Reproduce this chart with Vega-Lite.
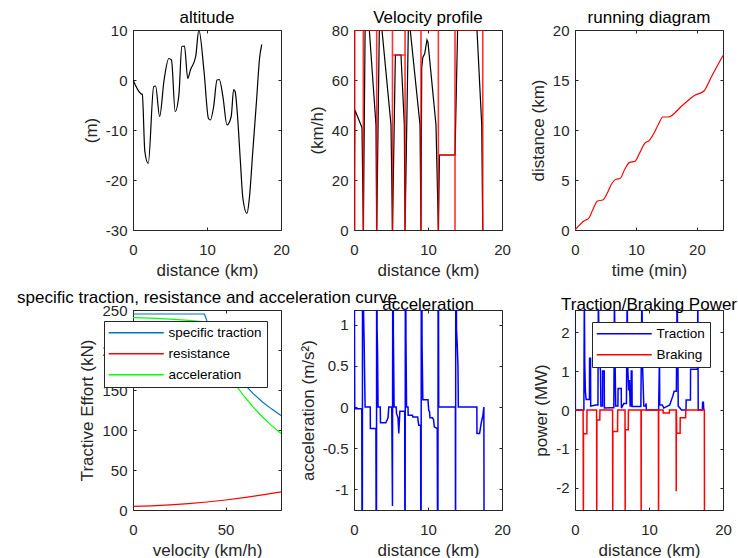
{
"$schema": "https://vega.github.io/schema/vega-lite/v6.json",
"background": "white",
"padding": {"left": 16, "top": 8, "right": 5, "bottom": 5},
"config": {
 "font": "Liberation Sans",
 "view": {"stroke": "#262626", "strokeWidth": 1},
 "axis": {"grid": false, "domain": false, "ticks": true, "tickSize": -3, "tickColor": "#262626", "tickWidth": 1, "labelColor": "#262626", "labelFontSize": 15, "titleColor": "#262626", "titleFontSize": 17, "titleFontWeight": "normal", "labelFlush": false, "labelOverlap": false},
 "axisBottom": {"labelPadding": 15, "titlePadding": 5},
 "axisLeft": {"labelPadding": 9, "titlePadding": 5},
 "title": {"fontSize": 17, "fontWeight": "normal", "color": "#000", "frame": "group", "baseline": "alphabetic", "offset": -4},
 "legend": {"labelFontSize": 13.5, "labelColor": "#000", "symbolType": "M-3.5,0H24", "symbolSize": 16, "symbolStrokeWidth": 1.5, "labelOffset": 46, "rowPadding": 6, "padding": 5, "strokeColor": "#262626", "fillColor": "#ffffff"}
},
"resolve": {"scale": {"color": "independent"}, "legend": {"color": "independent"}},
"columns": 3,
"spacing": {"row": 80, "column": 73},
"bounds": "flush",
"datasets": {
 "alt": [{"x":0,"y":0},{"x":1.03,"y":-2.7},{"x":1.26,"y":-2.9},{"x":1.6,"y":-14.3},{"x":2.06,"y":-16.7},{"x":2.8,"y":-1.3},{"x":3.05,"y":-1.2},{"x":3.6,"y":-7.3},{"x":4.2,"y":0},{"x":4.84,"y":4.3},{"x":5.2,"y":4},{"x":5.7,"y":-6.3},{"x":6.2,"y":-3},{"x":6.6,"y":6.7},{"x":6.95,"y":6.8},{"x":7.4,"y":0.3},{"x":7.76,"y":2},{"x":8.47,"y":4.7},{"x":8.9,"y":10},{"x":9.6,"y":1.7},{"x":10.2,"y":-7.7},{"x":10.45,"y":-8},{"x":10.9,"y":-5.3},{"x":11.35,"y":0},{"x":11.66,"y":0.1},{"x":12.15,"y":-3.3},{"x":12.7,"y":-9},{"x":13.27,"y":-7.3},{"x":13.6,"y":-1.9},{"x":13.8,"y":-2.3},{"x":14.1,"y":-6.7},{"x":14.5,"y":-16},{"x":14.85,"y":-23.7},{"x":15.4,"y":-26.7},{"x":15.7,"y":-24},{"x":16.2,"y":-14},{"x":16.7,"y":-4},{"x":17.1,"y":4.3},{"x":17.4,"y":7.1}],
 "vel": [{"x":0,"y":0},{"x":0.12,"y":48},{"x":1.08,"y":41},{"x":1.26,"y":0},{"x":1.5,"y":80},{"x":2.07,"y":80},{"x":2.97,"y":42},{"x":3.07,"y":0},{"x":3.42,"y":80},{"x":3.78,"y":80},{"x":5.0,"y":42},{"x":5.2,"y":0},{"x":5.59,"y":70},{"x":6.35,"y":70},{"x":6.8,"y":42},{"x":6.9,"y":0},{"x":7.34,"y":80},{"x":7.6,"y":80},{"x":8.92,"y":42},{"x":9.05,"y":0},{"x":9.15,"y":65},{"x":9.3,"y":69},{"x":9.55,"y":70.5},{"x":9.86,"y":76},{"x":10.0,"y":75},{"x":11.08,"y":42},{"x":11.4,"y":0},{"x":11.55,"y":30},{"x":13.65,"y":30},{"x":14.0,"y":80},{"x":16.62,"y":80},{"x":17.26,"y":42},{"x":17.4,"y":0}],
 "lim": [{"x":0.1,"y":0},{"x":0.1,"y":80},{"x":1.26,"y":80},{"x":1.26,"y":0},{"x":1.26,"y":80},{"x":3.07,"y":80},{"x":3.07,"y":0},{"x":3.07,"y":80},{"x":5.2,"y":80},{"x":5.2,"y":0},{"x":5.2,"y":70},{"x":6.9,"y":70},{"x":6.9,"y":0},{"x":6.9,"y":80},{"x":9.05,"y":80},{"x":9.05,"y":0},{"x":9.05,"y":80},{"x":11.4,"y":80},{"x":11.4,"y":0},{"x":11.4,"y":30},{"x":13.65,"y":30},{"x":13.65,"y":0},{"x":13.65,"y":80},{"x":17.4,"y":80},{"x":17.4,"y":0}],
 "run": [{"x":0,"y":0},{"x":1.53,"y":0.93},{"x":2.25,"y":1.16},{"x":2.9,"y":2.0},{"x":3.7,"y":2.9},{"x":4.55,"y":3.0},{"x":5.26,"y":3.65},{"x":5.9,"y":4.5},{"x":6.74,"y":5.08},{"x":7.4,"y":5.15},{"x":8.1,"y":6.0},{"x":8.9,"y":6.74},{"x":9.86,"y":6.88},{"x":10.6,"y":7.7},{"x":11.4,"y":8.64},{"x":12.2,"y":8.97},{"x":12.9,"y":9.63},{"x":13.7,"y":10.6},{"x":14.4,"y":11.3},{"x":15.3,"y":11.3},{"x":17.5,"y":12.4},{"x":19.6,"y":13.45},{"x":21.15,"y":13.9},{"x":22.35,"y":15.3},{"x":24.27,"y":17.45}],
 "trac": [
  {"s":"specific traction","x":0,"y":245},{"s":"specific traction","x":20,"y":245},{"s":"specific traction","x":38.6,"y":245},{"s":"specific traction","x":40,"y":236.4},{"s":"specific traction","x":45,"y":210.2},{"s":"specific traction","x":50,"y":189.1},{"s":"specific traction","x":55,"y":171.9},{"s":"specific traction","x":60,"y":157.6},{"s":"specific traction","x":65,"y":145.5},{"s":"specific traction","x":70,"y":135.1},{"s":"specific traction","x":75,"y":126.1},{"s":"specific traction","x":80,"y":118.2},
  {"s":"resistance","x":0,"y":4.5},{"s":"resistance","x":10,"y":5.2},{"s":"resistance","x":20,"y":6.4},{"s":"resistance","x":30,"y":8.0},{"s":"resistance","x":40,"y":10.0},{"s":"resistance","x":50,"y":12.5},{"s":"resistance","x":60,"y":15.4},{"s":"resistance","x":70,"y":18.8},{"s":"resistance","x":80,"y":22.6},
  {"s":"acceleration","x":0,"y":240.5},{"s":"acceleration","x":10,"y":239.8},{"s":"acceleration","x":20,"y":238.6},{"s":"acceleration","x":30,"y":237.0},{"s":"acceleration","x":38.6,"y":235.3},{"s":"acceleration","x":40,"y":226.4},{"s":"acceleration","x":45,"y":199.0},{"s":"acceleration","x":50,"y":176.6},{"s":"acceleration","x":55,"y":158.0},{"s":"acceleration","x":60,"y":142.2},{"s":"acceleration","x":65,"y":128.5},{"s":"acceleration","x":70,"y":116.3},{"s":"acceleration","x":75,"y":105.5},{"s":"acceleration","x":80,"y":95.6}],
 "acc": [{"x":0,"y":3},{"x":0.1,"y":0},{"x":0.12,"y":-0.02},{"x":1.05,"y":-0.02},{"x":1.12,"y":-3},{"x":1.16,"y":3},{"x":1.3,"y":1.1},{"x":1.36,"y":0.84},{"x":1.5,"y":0},{"x":2.2,"y":0},{"x":2.21,"y":-0.26},{"x":2.96,"y":-0.26},{"x":3.03,"y":-3},{"x":3.07,"y":3},{"x":3.12,"y":0.95},{"x":3.18,"y":0.7},{"x":3.25,"y":0},{"x":3.55,"y":0},{"x":3.58,"y":-0.19},{"x":4.3,"y":-0.19},{"x":4.5,"y":-0.15},{"x":4.6,"y":-0.13},{"x":4.7,"y":0},{"x":5.1,"y":0},{"x":5.2,"y":-1.2},{"x":5.25,"y":3},{"x":5.32,"y":0.9},{"x":5.42,"y":0},{"x":5.7,"y":0},{"x":5.75,"y":-0.08},{"x":5.95,"y":-0.13},{"x":6.05,"y":-0.32},{"x":6.2,"y":-0.05},{"x":6.85,"y":-0.05},{"x":6.9,"y":-3},{"x":6.95,"y":3},{"x":7.02,"y":0.85},{"x":7.1,"y":0},{"x":7.3,"y":0},{"x":7.32,"y":-0.1},{"x":7.9,"y":-0.1},{"x":7.95,"y":-0.12},{"x":8.6,"y":-0.12},{"x":8.75,"y":-0.22},{"x":9.0,"y":-0.22},{"x":9.06,"y":-3},{"x":9.1,"y":3},{"x":9.2,"y":0.75},{"x":9.3,"y":0.09},{"x":10.0,"y":0.09},{"x":10.05,"y":0.02},{"x":10.1,"y":-0.04},{"x":10.2,"y":-0.05},{"x":10.27,"y":-0.13},{"x":10.6,"y":-0.13},{"x":10.75,"y":-0.15},{"x":10.85,"y":-0.24},{"x":11.25,"y":-0.26},{"x":11.33,"y":-3},{"x":11.38,"y":3},{"x":11.45,"y":0},{"x":13.7,"y":0},{"x":13.72,"y":-3},{"x":13.76,"y":3},{"x":13.85,"y":0.95},{"x":13.95,"y":0.76},{"x":14.05,"y":0.5},{"x":14.1,"y":0},{"x":16.6,"y":0},{"x":16.62,"y":-0.32},{"x":16.97,"y":-0.32},{"x":17.2,"y":-0.19},{"x":17.42,"y":-0.1},{"x":17.55,"y":0},{"x":17.6,"y":-3}],
 "pow": [
  {"s":"Traction","x":0,"y":3},{"s":"Traction","x":0.05,"y":0},{"s":"Traction","x":1.2,"y":0},{"s":"Traction","x":1.26,"y":3},{"s":"Traction","x":1.32,"y":1.2},{"s":"Traction","x":1.4,"y":0.5},{"s":"Traction","x":1.5,"y":0.27},{"s":"Traction","x":1.95,"y":0.27},{"s":"Traction","x":1.97,"y":1.33},{"s":"Traction","x":2.1,"y":1.33},{"s":"Traction","x":2.12,"y":0.1},{"s":"Traction","x":2.8,"y":0.13},{"s":"Traction","x":3.1,"y":0.13},{"s":"Traction","x":3.16,"y":3},{"s":"Traction","x":3.25,"y":1.6},{"s":"Traction","x":3.35,"y":1.19},{"s":"Traction","x":3.45,"y":1.0},{"s":"Traction","x":3.5,"y":0.1},{"s":"Traction","x":3.72,"y":0.1},{"s":"Traction","x":3.74,"y":1.0},{"s":"Traction","x":3.95,"y":1.0},{"s":"Traction","x":3.97,"y":0.05},{"s":"Traction","x":4.8,"y":0.06},{"s":"Traction","x":5.25,"y":0.06},{"s":"Traction","x":5.33,"y":3},{"s":"Traction","x":5.42,"y":1.2},{"s":"Traction","x":5.5,"y":0.1},{"s":"Traction","x":5.8,"y":0.1},{"s":"Traction","x":5.82,"y":0.55},{"s":"Traction","x":6.25,"y":0.55},{"s":"Traction","x":6.27,"y":0.05},{"s":"Traction","x":6.6,"y":0.17},{"s":"Traction","x":6.95,"y":0.17},{"s":"Traction","x":7.05,"y":3},{"s":"Traction","x":7.15,"y":1.0},{"s":"Traction","x":7.25,"y":0.5},{"s":"Traction","x":7.36,"y":0.77},{"s":"Traction","x":7.45,"y":0.1},{"s":"Traction","x":7.58,"y":0.1},{"s":"Traction","x":7.6,"y":1.0},{"s":"Traction","x":7.7,"y":1.0},{"s":"Traction","x":7.72,"y":0.09},{"s":"Traction","x":8.9,"y":0.09},{"s":"Traction","x":9.04,"y":3},{"s":"Traction","x":9.15,"y":1.0},{"s":"Traction","x":9.3,"y":0.1},{"s":"Traction","x":9.55,"y":0.1},{"s":"Traction","x":9.6,"y":0.17},{"s":"Traction","x":9.65,"y":0},{"s":"Traction","x":11.3,"y":0},{"s":"Traction","x":11.42,"y":1.42},{"s":"Traction","x":11.45,"y":0.13},{"s":"Traction","x":11.8,"y":0.13},{"s":"Traction","x":12.0,"y":0.05},{"s":"Traction","x":12.8,"y":0.13},{"s":"Traction","x":13.2,"y":0.35},{"s":"Traction","x":13.4,"y":0.48},{"s":"Traction","x":13.7,"y":0.48},{"s":"Traction","x":13.8,"y":3},{"s":"Traction","x":13.9,"y":1.5},{"s":"Traction","x":13.95,"y":0.1},{"s":"Traction","x":14.4,"y":0},{"s":"Traction","x":15.0,"y":0},{"s":"Traction","x":15.02,"y":0.26},{"s":"Traction","x":15.6,"y":0.26},{"s":"Traction","x":15.62,"y":1.05},{"s":"Traction","x":16.55,"y":1.05},{"s":"Traction","x":16.6,"y":3},{"s":"Traction","x":16.65,"y":0},{"s":"Traction","x":17.2,"y":0},{"s":"Traction","x":17.25,"y":0.2},{"s":"Traction","x":17.35,"y":0.2},{"s":"Traction","x":17.4,"y":0},
  {"s":"Braking","x":0,"y":0},{"s":"Braking","x":1.1,"y":0},{"s":"Braking","x":1.13,"y":-3},{"s":"Braking","x":1.15,"y":-0.61},{"s":"Braking","x":1.6,"y":-0.61},{"s":"Braking","x":1.62,"y":0},{"s":"Braking","x":2.92,"y":0},{"s":"Braking","x":2.94,"y":-3},{"s":"Braking","x":2.96,"y":-0.26},{"s":"Braking","x":3.35,"y":-0.26},{"s":"Braking","x":3.37,"y":0},{"s":"Braking","x":5.08,"y":0},{"s":"Braking","x":5.1,"y":-3},{"s":"Braking","x":5.12,"y":-0.55},{"s":"Braking","x":5.75,"y":-0.55},{"s":"Braking","x":5.77,"y":0},{"s":"Braking","x":6.76,"y":0},{"s":"Braking","x":6.78,"y":-3},{"s":"Braking","x":6.8,"y":-0.51},{"s":"Braking","x":7.2,"y":-0.51},{"s":"Braking","x":7.22,"y":0},{"s":"Braking","x":8.92,"y":0},{"s":"Braking","x":8.94,"y":-3},{"s":"Braking","x":8.96,"y":0},{"s":"Braking","x":11.27,"y":0},{"s":"Braking","x":11.29,"y":-3},{"s":"Braking","x":11.31,"y":0},{"s":"Braking","x":11.9,"y":0},{"s":"Braking","x":11.92,"y":-0.08},{"s":"Braking","x":12.75,"y":-0.08},{"s":"Braking","x":12.77,"y":0},{"s":"Braking","x":13.66,"y":0},{"s":"Braking","x":13.68,"y":-2.09},{"s":"Braking","x":13.7,"y":0},{"s":"Braking","x":13.75,"y":-0.6},{"s":"Braking","x":14.2,"y":-0.6},{"s":"Braking","x":14.22,"y":-0.2},{"s":"Braking","x":14.95,"y":-0.2},{"s":"Braking","x":14.97,"y":0},{"s":"Braking","x":17.48,"y":0},{"s":"Braking","x":17.5,"y":-3}]
},
"concat": [
 {"title": "altitude", "width": 148, "height": 200,
  "layer": [
   {"data": {"name": "alt"}, "mark": {"type": "line", "color": "#000000", "strokeWidth": 1.2, "interpolate": "monotone", "clip": true},
    "encoding": {"x": {"field": "x", "type": "quantitative", "scale": {"domain": [0, 20], "nice": false, "zero": false}, "axis": {"orient": "bottom", "values": [0, 10, 20], "title": "distance (km)", "labelExpr": "'' + datum.value"}},
                 "y": {"field": "y", "type": "quantitative", "scale": {"domain": [-30, 10], "nice": false, "zero": false}, "axis": {"orient": "left", "values": [-30, -20, -10, 0, 10], "title": "(m)", "labelExpr": "'' + datum.value"}},
                 "order": {"value": null}}},
   {"data": {"name": "alt"}, "mark": {"type": "line", "opacity": 0, "clip": true},
    "encoding": {"x": {"field": "x", "type": "quantitative", "scale": {"domain": [0, 20], "nice": false, "zero": false}, "axis": {"orient": "top", "values": [0, 10, 20], "labels": false, "title": null}},
                 "y": {"field": "y", "type": "quantitative", "scale": {"domain": [-30, 10], "nice": false, "zero": false}, "axis": {"orient": "right", "values": [-30, -20, -10, 0, 10], "labels": false, "title": null}}}}
  ],
  "resolve": {"axis": {"x": "independent", "y": "independent"}}},
 {"title": "Velocity profile", "width": 148, "height": 200,
  "layer": [
   {"data": {"name": "vel"}, "mark": {"type": "line", "color": "#000000", "strokeWidth": 1.2, "clip": true},
    "encoding": {"x": {"field": "x", "type": "quantitative", "scale": {"domain": [0, 20], "nice": false, "zero": false}, "axis": {"orient": "bottom", "values": [0, 10, 20], "title": "distance (km)", "labelExpr": "'' + datum.value"}},
                 "y": {"field": "y", "type": "quantitative", "scale": {"domain": [0, 80], "nice": false, "zero": false}, "axis": {"orient": "left", "values": [0, 20, 40, 60, 80], "title": "(km/h)", "labelExpr": "'' + datum.value"}},
                 "order": {"value": null}}},
   {"data": {"name": "lim"}, "mark": {"type": "line", "color": "#ff0000", "strokeWidth": 1.6, "opacity": 0.8, "clip": true},
    "encoding": {"x": {"field": "x", "type": "quantitative", "scale": {"domain": [0, 20], "nice": false, "zero": false}, "axis": {"orient": "top", "values": [0, 10, 20], "labels": false, "title": null}},
                 "y": {"field": "y", "type": "quantitative", "scale": {"domain": [0, 80], "nice": false, "zero": false}, "axis": {"orient": "right", "values": [0, 20, 40, 60, 80], "labels": false, "title": null}},
                 "order": {"value": null}}}
  ],
  "resolve": {"axis": {"x": "independent", "y": "independent"}}},
 {"title": "running diagram", "width": 148, "height": 200,
  "layer": [
   {"data": {"name": "run"}, "mark": {"type": "line", "color": "#ff0000", "strokeWidth": 1.2, "interpolate": "monotone", "clip": true},
    "encoding": {"x": {"field": "x", "type": "quantitative", "scale": {"domain": [0, 24.27], "nice": false, "zero": false}, "axis": {"orient": "bottom", "values": [0, 10, 20], "title": "time (min)", "labelExpr": "'' + datum.value"}},
                 "y": {"field": "y", "type": "quantitative", "scale": {"domain": [0, 20], "nice": false, "zero": false}, "axis": {"orient": "left", "values": [0, 5, 10, 15, 20], "title": "distance (km)", "labelExpr": "'' + datum.value"}},
                 "order": {"value": null}}},
   {"data": {"name": "run"}, "mark": {"type": "line", "opacity": 0, "clip": true},
    "encoding": {"x": {"field": "x", "type": "quantitative", "scale": {"domain": [0, 24.27], "nice": false, "zero": false}, "axis": {"orient": "top", "values": [0, 10, 20], "labels": false, "title": null}},
                 "y": {"field": "y", "type": "quantitative", "scale": {"domain": [0, 20], "nice": false, "zero": false}, "axis": {"orient": "right", "values": [0, 5, 10, 15, 20], "labels": false, "title": null}}}}
  ],
  "resolve": {"axis": {"x": "independent", "y": "independent"}}},
 {"title": "specific traction, resistance and acceleration curve", "width": 148, "height": 200,
  "layer": [
   {"data": {"name": "trac"}, "mark": {"type": "line", "strokeWidth": 1.2, "clip": true},
    "encoding": {"x": {"field": "x", "type": "quantitative", "scale": {"domain": [0, 80], "nice": false, "zero": false}, "axis": {"orient": "bottom", "values": [0, 50], "title": "velocity (km/h)", "labelExpr": "'' + datum.value"}},
                 "y": {"field": "y", "type": "quantitative", "scale": {"domain": [0, 250], "nice": false, "zero": false}, "axis": {"orient": "left", "values": [0, 50, 100, 150, 200, 250], "title": "Tractive Effort (kN)", "labelExpr": "'' + datum.value"}},
                 "color": {"field": "s", "type": "nominal", "scale": {"domain": ["specific traction", "resistance", "acceleration"], "range": ["#0072BD", "#FF0000", "#00FF00"]}, "legend": {"orient": "none", "legendX": -29, "legendY": 11, "title": null}},
                 "order": {"value": null}}},
   {"data": {"name": "trac"}, "mark": {"type": "line", "opacity": 0, "clip": true},
    "encoding": {"x": {"field": "x", "type": "quantitative", "scale": {"domain": [0, 80], "nice": false, "zero": false}, "axis": {"orient": "top", "values": [0, 50], "labels": false, "title": null}},
                 "y": {"field": "y", "type": "quantitative", "scale": {"domain": [0, 250], "nice": false, "zero": false}, "axis": {"orient": "right", "values": [0, 50, 100, 150, 200, 250], "labels": false, "title": null}},
                 "detail": {"field": "s"}}}
  ],
  "resolve": {"axis": {"x": "independent", "y": "independent"}}},
 {"title": "acceleration", "width": 148, "height": 200,
  "layer": [
   {"data": {"name": "acc"}, "mark": {"type": "line", "color": "#0000ff", "strokeWidth": 1.5, "clip": true},
    "encoding": {"x": {"field": "x", "type": "quantitative", "scale": {"domain": [0, 20], "nice": false, "zero": false}, "axis": {"orient": "bottom", "values": [0, 10, 20], "title": "distance (km)", "labelExpr": "'' + datum.value"}},
                 "y": {"field": "y", "type": "quantitative", "scale": {"domain": [-1.25, 1.18], "nice": false, "zero": false}, "axis": {"orient": "left", "values": [-1, -0.5, 0, 0.5, 1], "title": "acceleration (m/s²)", "labelExpr": "'' + datum.value"}},
                 "order": {"value": null}}},
   {"data": {"name": "acc"}, "mark": {"type": "line", "opacity": 0, "clip": true},
    "encoding": {"x": {"field": "x", "type": "quantitative", "scale": {"domain": [0, 20], "nice": false, "zero": false}, "axis": {"orient": "top", "values": [0, 10, 20], "labels": false, "title": null}},
                 "y": {"field": "y", "type": "quantitative", "scale": {"domain": [-1.25, 1.18], "nice": false, "zero": false}, "axis": {"orient": "right", "values": [-1, -0.5, 0, 0.5, 1], "labels": false, "title": null}}}}
  ],
  "resolve": {"axis": {"x": "independent", "y": "independent"}}},
 {"title": "Traction/Braking Power", "width": 148, "height": 200,
  "layer": [
   {"data": {"name": "pow"}, "mark": {"type": "line", "strokeWidth": 1.5, "clip": true},
    "encoding": {"x": {"field": "x", "type": "quantitative", "scale": {"domain": [0, 20], "nice": false, "zero": false}, "axis": {"orient": "bottom", "values": [0, 10, 20], "title": "distance (km)", "labelExpr": "'' + datum.value"}},
                 "y": {"field": "y", "type": "quantitative", "scale": {"domain": [-2.57, 2.57], "nice": false, "zero": false}, "axis": {"orient": "left", "values": [-2, -1, 0, 1, 2], "title": "power (MW)", "labelExpr": "'' + datum.value"}},
                 "color": {"field": "s", "type": "nominal", "scale": {"domain": ["Traction", "Braking"], "range": ["#0000FF", "#FF0000"]}, "legend": {"orient": "none", "legendX": 17, "legendY": 12, "title": null}},
                 "order": {"value": null}}},
   {"data": {"name": "pow"}, "mark": {"type": "line", "opacity": 0, "clip": true},
    "encoding": {"x": {"field": "x", "type": "quantitative", "scale": {"domain": [0, 20], "nice": false, "zero": false}, "axis": {"orient": "top", "values": [0, 10, 20], "labels": false, "title": null}},
                 "y": {"field": "y", "type": "quantitative", "scale": {"domain": [-2.57, 2.57], "nice": false, "zero": false}, "axis": {"orient": "right", "values": [-2, -1, 0, 1, 2], "labels": false, "title": null}},
                 "detail": {"field": "s"}}}
  ],
  "resolve": {"axis": {"x": "independent", "y": "independent"}}}
]
}
